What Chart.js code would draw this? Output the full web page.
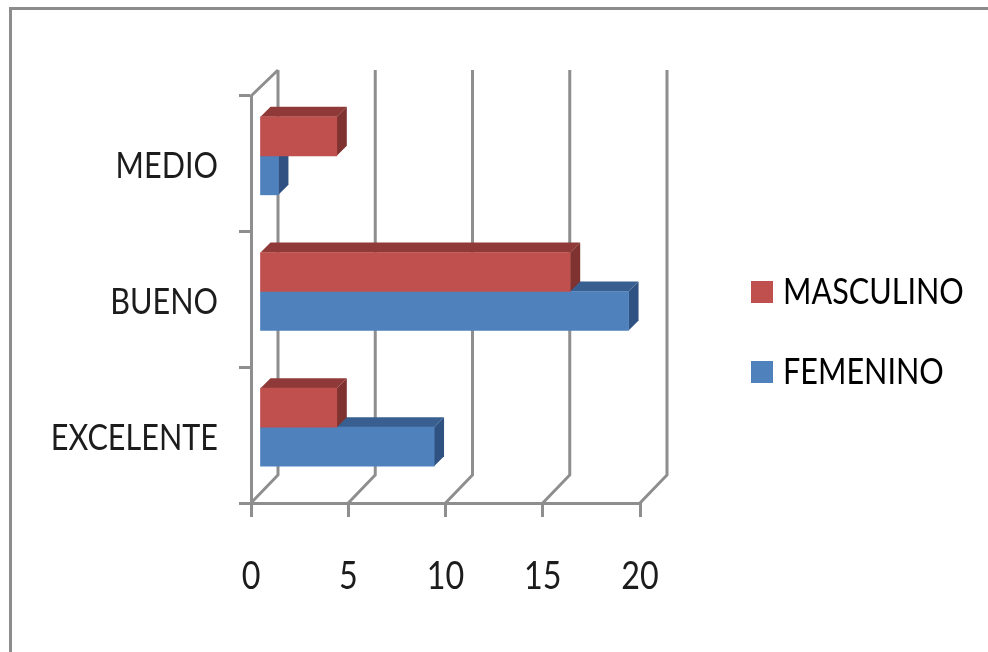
<!DOCTYPE html>
<html>
<head>
<meta charset="utf-8">
<style>
    html, body { margin: 0; padding: 0; background: #fff; overflow: hidden; }
    #frame { position: absolute; left: 9px; top: 7px; right: 0; bottom: 0; border-left: 3px solid #8c8c8c; border-top: 3px solid #8c8c8c; filter: blur(0.5px); }
    #wrap { position: absolute; left: 0; top: 0; width: 988px; height: 652px; filter: blur(0.6px); }
</style>
<script src="https://cdn.jsdelivr.net/npm/chart.js@4"></script>
</head>
<body>
<div id="frame"></div>
<div id="wrap"><canvas id="chart" width="988" height="652"></canvas></div>
<script>
// Data
const categories = ['MEDIO', 'BUENO', 'EXCELENTE'];
const masculino = [4, 16, 4];
const femenino = [1, 19, 9];
const xTicks = [0, 5, 10, 15, 20];

const FONT = 'Lato, "Open Sans", sans-serif';
const AXIS_GREY = '#8e8e8e';
const TEXT = '#1c1c1c';
const TEXT_SQUEEZE = 0.85;   // the original text is stretched tall and narrow

// Depth of the fake 3D look, in pixels
const WALL_X = 27, WALL_Y = 28;
const BAR_SHIFT_X = 8, BAR_SHIFT_Y = -8;
const BAR_DEPTH = 10;

// Squeeze every label around its own anchor, so alignment stays the library's
const canvas = document.getElementById('chart');
const rawCtx = canvas.getContext('2d');
const rawFillText = rawCtx.fillText.bind(rawCtx);
rawCtx.fillText = function (text, x, y) {
    rawCtx.save();
    rawCtx.translate(x, y);
    rawCtx.scale(TEXT_SQUEEZE, 1);
    rawFillText(text, 0, 0);
    rawCtx.restore();
};

// Back wall and floor lines, taken from the x scale
const wallPlugin = {
    id: 'wall',
    beforeDatasetsDraw(chart) {
        const { ctx, chartArea, scales } = chart;
        ctx.save();
        ctx.strokeStyle = AXIS_GREY;
        ctx.lineWidth = 3;
        xTicks.forEach(v => {
            const x = scales.x.getPixelForValue(v);
            ctx.beginPath();
            ctx.moveTo(x, chartArea.bottom);
            ctx.lineTo(x + WALL_X, chartArea.bottom - WALL_Y);
            ctx.lineTo(x + WALL_X, chartArea.top - 26);
            ctx.stroke();
        });
        const x0 = scales.x.getPixelForValue(0);
        ctx.beginPath();
        ctx.moveTo(x0, chartArea.top);
        ctx.lineTo(x0 + WALL_X, chartArea.top - 26);
        ctx.stroke();
        ctx.restore();
    }
};

// Top and side faces of each bar; the whole dataset is moved onto the floor
const depthPlugin = {
    id: 'depth',
    beforeDatasetDraw(chart, args) {
        const { ctx } = chart;
        const ds = chart.data.datasets[args.index];
        ctx.save();
        ctx.translate(BAR_SHIFT_X, BAR_SHIFT_Y);
        args.meta.data.forEach(bar => {
            const left = bar.base, right = bar.x;
            const top = bar.y - bar.height / 2, bottom = bar.y + bar.height / 2;
            ctx.fillStyle = ds.topColor;
            ctx.beginPath();
            ctx.moveTo(left, top);
            ctx.lineTo(left + BAR_DEPTH, top - BAR_DEPTH);
            ctx.lineTo(right + BAR_DEPTH, top - BAR_DEPTH);
            ctx.lineTo(right, top);
            ctx.closePath();
            ctx.fill();
            ctx.fillStyle = ds.sideColor;
            ctx.beginPath();
            ctx.moveTo(right, top);
            ctx.lineTo(right + BAR_DEPTH, top - BAR_DEPTH);
            ctx.lineTo(right + BAR_DEPTH, bottom - BAR_DEPTH);
            ctx.lineTo(right, bottom);
            ctx.closePath();
            ctx.fill();
        });
    },
    afterDatasetDraw(chart) {
        chart.ctx.restore();
    }
};

// Legend sits outside the plot, to the right of the back wall
const legendPlacePlugin = {
    id: 'legendPlace',
    afterLayout(chart) {
        const l = chart.legend;
        const w = l.width, h = l.height;
        l.left = 715; l.top = 230;
        l.right = l.left + w; l.bottom = l.top + h;
    }
};

new Chart(canvas, {
    type: 'bar',
    data: {
        labels: categories,
        datasets: [
            { label: 'MASCULINO', data: masculino, backgroundColor: '#c0504d', topColor: '#8f3a38', sideColor: '#7f3331', barThickness: 39 },
            { label: 'FEMENINO', data: femenino, backgroundColor: '#4f81bd', topColor: '#385f90', sideColor: '#2f5283', barThickness: 39 },
        ],
    },
    options: {
        indexAxis: 'y',
        responsive: false,
        animation: false,
        layout: { padding: { top: 96, right: 348, left: 0, bottom: 0 } },
        plugins: {
            tooltip: { enabled: false },
            legend: {
                position: 'chartArea',
                align: 'start',
                labels: {
                    boxWidth: 6,
                    boxHeight: 6,
                    padding: 44,
                    color: TEXT,
                    font: { family: FONT, size: 36 },
                    generateLabels(chart) {
                        return chart.data.datasets.map((ds, i) => ({
                            text: ds.label,
                            fillStyle: ds.backgroundColor,
                            strokeStyle: ds.backgroundColor,
                            lineWidth: 16,
                            datasetIndex: i,
                        }));
                    },
                },
            },
        },
        scales: {
            x: {
                type: 'linear',
                min: 0,
                max: 20,
                afterFit(scale) { scale.height = 149; },
                afterBuildTicks(scale) { scale.ticks = xTicks.map(v => ({ value: v })); },
                border: { color: AXIS_GREY, width: 3 },
                grid: { drawOnChartArea: false, color: AXIS_GREY, lineWidth: 3, tickLength: 14 },
                ticks: { color: TEXT, padding: 37, maxRotation: 0, autoSkip: false, font: { family: FONT, size: 38 } },
            },
            y: {
                afterFit(scale) { scale.width = 251; },
                border: { color: AXIS_GREY, width: 3 },
                grid: { drawOnChartArea: false, color: AXIS_GREY, lineWidth: 3, tickLength: 12 },
                ticks: { color: TEXT, padding: 21, labelOffset: 3, font: { family: FONT, size: 36 } },
            },
        },
    },
    plugins: [wallPlugin, depthPlugin, legendPlacePlugin],
});
</script>
</body>
</html>
